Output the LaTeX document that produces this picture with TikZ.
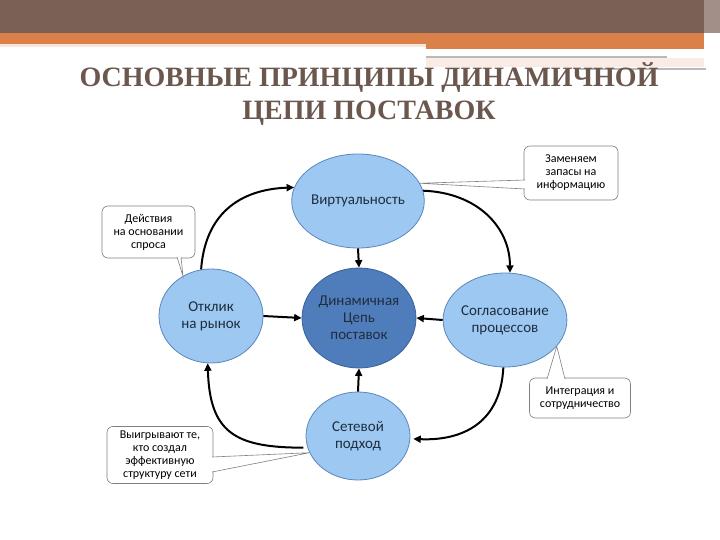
\documentclass[tikz,border=0pt]{standalone}
\usepackage{fontspec}
\setmainfont{Carlito}
\newfontfamily\titlefont{Liberation Serif}
\usetikzlibrary{arrows.meta,shapes.geometric}
\definecolor{BarClr}{HTML}{7A6155}
\definecolor{StripClr}{HTML}{DC8049}
\definecolor{TitleClr}{HTML}{6B574D}
\definecolor{BubbleClr}{HTML}{9DC8F2}
\definecolor{BubbleEdge}{HTML}{5A86BD}
\definecolor{CoreClr}{HTML}{4F7DBC}
\definecolor{CoreEdge}{HTML}{37609A}
\definecolor{TextClr}{HTML}{1F2D3D}
\definecolor{NoteEdge}{HTML}{7F7F7F}

% tail of a callout: base point, tip, base point
\newcommand{\notetail}[3]{%
  \fill[white] (#1) -- (#2) -- (#3) -- cycle;
  \draw[noteline] (#1) -- (#2) -- (#3);}

\begin{document}
\begin{tikzpicture}[x=1pt,y=-1pt,
  bubble/.style={ellipse,draw=BubbleEdge,fill=BubbleClr,line width=0.8pt,
    minimum width=104pt,minimum height=94pt,inner sep=0pt,align=center,
    text=TextClr,font=\fontsize{15}{17}\selectfont},
  corebubble/.style={bubble,fill=CoreClr,draw=CoreEdge,
    minimum width=108pt,minimum height=100pt},
  note/.style={draw=NoteEdge,fill=white,rounded corners=6pt,line width=0.6pt,
    align=center,inner sep=0pt,font=\fontsize{12}{13}\selectfont},
  noteline/.style={NoteEdge,line width=0.6pt},
  flow/.style={-{Triangle[length=7.5pt,width=7pt]},line width=2pt}]
\useasboundingbox (0,0) rectangle (720,540);

% header bar
\fill[BarClr] (0,0) rectangle (720,33);
\fill[StripClr] (0,33) rectangle (426,44);
\fill[StripClr] (426,33) rectangle (704,49);
\fill[white,opacity=0.3] (704,0) rectangle (720,50);
\fill[StripClr!20] (0,44) rectangle (426,47);
\fill[StripClr!15] (426,58) rectangle (704,67);
\draw[gray!55,line width=1.5pt] (426,57) -- (667,57);
\draw[gray!55,line width=1.5pt] (580,69) -- (706,69);

\node[font={\titlefont\bfseries\fontsize{28}{33}\selectfont},text=TitleClr,
  align=center] (title) at (369,94) {ОСНОВНЫЕ ПРИНЦИПЫ ДИНАМИЧНОЙ\\ЦЕПИ ПОСТАВОК};

% the five principles
\node[bubble] (virt) at (358,201) {Виртуальность};
\node[corebubble] (core) at (359,318) {Динамичная\\Цепь\\поставок};
\node[bubble] (resp) at (211,316) {Отклик\\на рынок};
\node[bubble] (coord) at (505,320) {Согласование\\процессов};
\node[bubble,minimum height=88pt] (net) at (358,436) {Сетевой\\подход};

% cycle round the core
\draw[flow] (resp.102) .. controls +(4,-55) and +(-55,2) .. (virt.168);
\draw[flow] (virt.9) .. controls +(55,2) and +(0,-45) .. (coord.84);
\draw[flow,shorten >=3pt] (coord.268) .. controls +(-3,61) and +(45,2) .. (net.357);
\draw[flow,shorten <=4pt] (net.193) .. controls +(-73,0) and +(2,69) .. (resp.266);

% into the core
\draw[flow] (virt.south) -- (core.north);
\draw[flow] (resp.east) -- (core.west);
\draw[flow] (coord.west) -- (core.east);
\draw[flow] (net.north) -- (core.south);

% callouts
\node[note,minimum width=93pt,minimum height=52pt] (act) at (148.5,232)
  {Действия\\на основании\\спроса};
\node[note,minimum width=94pt,minimum height=54pt] (repl) at (571,173)
  {Заменяем\\запасы на\\информацию};
\node[note,minimum width=101pt,minimum height=40pt] (integ) at (580,398)
  {Интеграция и\\сотрудничество};
\node[note,minimum width=106pt,minimum height=57pt] (win) at (160,455)
  {Выигрывают те,\\кто создал\\эффективную\\структуру сети};

\coordinate (act-a) at (177,257);
\coordinate (act-b) at (181,257);
\coordinate (repl-a) at (525,180);
\coordinate (repl-b) at (525,189);
\coordinate (integ-a) at (547,379);
\coordinate (integ-b) at (565,379);
\coordinate (win-a) at (212,457);
\coordinate (win-b) at (212,472);
\notetail{act-a}{resp.125}{act-b}
\notetail{repl-a}{virt.16}{repl-b}
\notetail{integ-a}{coord.333}{integ-b}
\notetail{win-a}{net.199}{win-b}

\end{tikzpicture}
\end{document}
